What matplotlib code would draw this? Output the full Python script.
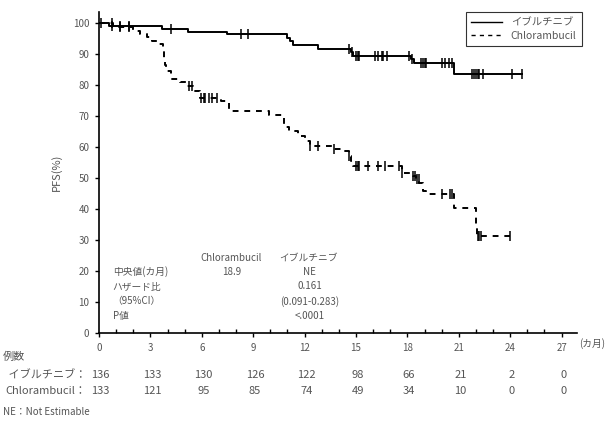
import numpy as np
import matplotlib
matplotlib.use("Agg")
import matplotlib.pyplot as plt
from matplotlib.ticker import MultipleLocator
from matplotlib.transforms import blended_transform_factory

plt.rcParams["font.family"] = ["Noto Sans CJK JP", "DejaVu Sans"]

TEXT_GRAY = "#555555"

# Kaplan-Meier step curves (months, PFS %)
ibr_t = [0, 0.6, 3.65, 5.2, 7.5, 11.0, 11.15, 11.3, 12.8, 14.7, 14.85, 18.2, 18.4, 20.7, 24.7]
ibr_s = [100, 99.0, 98.1, 97.2, 96.4, 95.0, 94.0, 93.0, 91.7, 90.5, 89.4, 88.2, 87.0, 83.4, 83.4]
ibr_cens = [0.1, 0.75, 1.2, 1.75, 4.2, 8.3, 8.7, 14.6, 14.75, 15.0, 15.1, 15.2, 16.1, 16.3,
            16.5, 16.6, 16.8, 18.1, 18.25, 18.8, 18.9, 19.0, 19.1, 20.0, 20.2, 20.4, 20.6,
            21.8, 21.9, 22.0, 22.1, 22.2, 22.4, 24.1, 24.7]

chl_t = [0, 0.8, 2.0, 2.4, 2.8, 3.1, 3.4, 3.75, 3.8, 3.85, 3.9, 4.2, 4.7, 5.1, 5.5, 5.9,
         7.1, 7.6, 9.95, 10.8, 11.1, 11.6, 12.0, 12.3, 13.7, 14.3, 14.6, 14.7, 14.8,
         17.7, 18.3, 18.5, 18.7, 18.9, 19.1, 20.7, 22.0, 22.05, 24.0]
chl_s = [100, 98.6, 97.4, 96.4, 95.3, 94.2, 93.1, 91.0, 88.5, 86.3, 84.5, 81.8, 80.8, 79.7,
         78.0, 75.9, 74.8, 71.6, 70.3, 66.5, 65.2, 63.5, 61.9, 60.3, 59.4, 58.7, 57.0,
         55.5, 53.9, 51.7, 50.6, 49.5, 48.5, 45.8, 44.7, 40.4, 34.0, 31.3, 31.3]
chl_cens = [0.75, 1.2, 1.75, 5.25, 5.4, 5.95, 6.1, 6.2, 6.4, 6.6, 6.9, 12.3, 12.8, 13.7,
            14.6, 15.0, 15.1, 15.2, 15.7, 16.3, 16.7, 17.5, 17.7, 18.35, 18.45, 18.55,
            18.65, 20.0, 20.5, 20.6, 22.1, 22.2, 22.3, 24.0]

x_ticks = [0, 3, 6, 9, 12, 15, 18, 21, 24, 27]
risk_ibr = [136, 133, 130, 126, 122, 98, 66, 21, 2, 0]
risk_chl = [133, 121, 95, 85, 74, 49, 34, 10, 0, 0]

label_ibr = "イブルチニブ"
label_chl = "Chlorambucil"

stats_rows = ["中央値(カ月)", "ハザード比", "（95%CI）", "P値"]
stats_chl = ["18.9", "", "", ""]
stats_ibr = ["NE", "0.161", "(0.091-0.283)", "<.0001"]


def step_value(times, surv, x):
    idx = np.searchsorted(times, x, side="right") - 1
    return np.asarray(surv)[idx]


fig = plt.figure(figsize=(6.12, 4.24), dpi=100)
ax = fig.add_axes([99 / 612, 1 - 333 / 424, (577 - 99) / 612, (333 - 12) / 424])

ax.step(ibr_t, ibr_s, where="post", color="black", linewidth=1.4, label=label_ibr)
ax.step(chl_t, chl_s, where="post", color="black", linewidth=1.4,
        linestyle=(0, (3, 3)), label=label_chl)
ax.plot(ibr_cens, step_value(ibr_t, ibr_s, ibr_cens), linestyle="none", marker="|",
        markersize=6.5, markeredgewidth=1.1, color="black")
ax.plot(chl_cens, step_value(chl_t, chl_s, chl_cens), linestyle="none", marker="|",
        markersize=6.5, markeredgewidth=1.1, color="black")

ax.set_xlim(0, 27.9)
ax.set_ylim(0, 103.5)
ax.set_xticks(x_ticks)
ax.xaxis.set_minor_locator(MultipleLocator(1))
ax.set_yticks(range(0, 101, 10))
for side in ["top", "right"]:
    ax.spines[side].set_visible(False)
for side in ["left", "bottom"]:
    ax.spines[side].set_linewidth(1.2)
ax.tick_params(axis="both", which="major", direction="out", length=3, width=1,
               labelsize=7, labelcolor=TEXT_GRAY, pad=4)
ax.tick_params(axis="x", which="minor", direction="in", length=3, width=1)
ax.set_ylabel("PFS(%)", fontsize=8, color=TEXT_GRAY, labelpad=8)

# (カ月) after the last tick label
ax.text(1.005, -0.032, "(カ月)", transform=ax.transAxes, fontsize=7, color=TEXT_GRAY,
        ha="left", va="center")

# summary table inside the plot
row_y = [19.8, 15.0, 10.2, 5.4]
ax.text(7.72, 24.2, label_chl, fontsize=7, color=TEXT_GRAY, ha="center", va="center")
ax.text(12.25, 24.2, label_ibr, fontsize=7, color=TEXT_GRAY, ha="center", va="center")
for y, name, v1, v2 in zip(row_y, stats_rows, stats_chl, stats_ibr):
    ax.text(0.8, y, name, fontsize=7, color=TEXT_GRAY, ha="left", va="center")
    if v1:
        ax.text(7.72, y, v1, fontsize=7, color=TEXT_GRAY, ha="center", va="center")
    ax.text(12.3, y, v2, fontsize=7, color=TEXT_GRAY, ha="center", va="center")

# number at risk
trans = blended_transform_factory(ax.transData, fig.transFigure)
fig.text(3 / 612, 1 - 357 / 424, "例数", fontsize=8, color=TEXT_GRAY, ha="left", va="center")
fig.text(86 / 612, 1 - 375 / 424, " " + label_ibr + "：", fontsize=8, color=TEXT_GRAY,
         ha="right", va="center")
fig.text(86 / 612, 1 - 391 / 424, label_chl + "：", fontsize=8, color=TEXT_GRAY,
         ha="right", va="center")
for x, n1, n2 in zip(x_ticks, risk_ibr, risk_chl):
    ax.text(x + 0.1, 1 - 375 / 424, str(n1), transform=trans, fontsize=8,
            color=TEXT_GRAY, ha="center", va="center", clip_on=False)
    ax.text(x + 0.1, 1 - 391 / 424, str(n2), transform=trans, fontsize=8,
            color=TEXT_GRAY, ha="center", va="center", clip_on=False)
fig.text(3 / 612, 1 - 412 / 424, "NE：Not Estimable", fontsize=7, color=TEXT_GRAY,
         ha="left", va="center")

leg = fig.legend(loc="upper right", bbox_to_anchor=(587 / 612, 1 - 7 / 424),
                 fontsize=7.5, frameon=True, fancybox=False, edgecolor="black",
                 handlelength=3.0, borderpad=0.5, labelspacing=0.3)
leg.get_frame().set_linewidth(0.8)
for t in leg.get_texts():
    t.set_color(TEXT_GRAY)
for h in leg.legend_handles:
    h.set_linewidth(1.0)

fig.savefig("out.png", dpi=100)
